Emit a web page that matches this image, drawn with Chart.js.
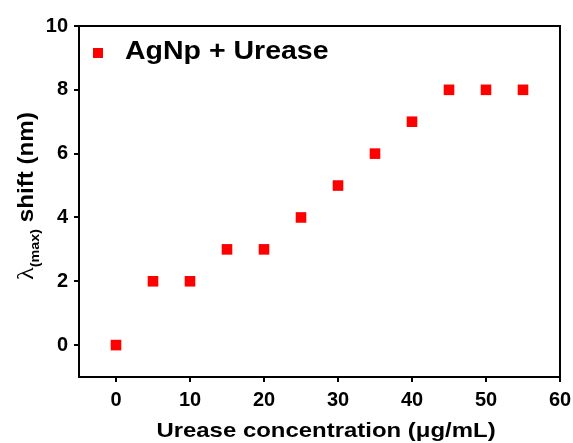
<!DOCTYPE html>
<html>
<head>
<meta charset="utf-8">
<script src="https://cdn.jsdelivr.net/npm/chart.js@4.4.0/dist/chart.umd.min.js"></script>
<style>
  html, body { margin: 0; padding: 0; background: #fff; }
  #wrap { width: 573px; height: 443px; }
</style>
</head>
<body>
<div id="wrap"><canvas id="shiftChart"></canvas></div>
<script>
// data
const concentration = [0, 5, 10, 15, 20, 25, 30, 35, 40, 45, 50, 55];
const lambdaShift = [0, 2, 2, 3, 3, 4, 5, 6, 7, 8, 8, 8];
const xTicks = [0, 10, 20, 30, 40, 50, 60];
const yTicks = [0, 2, 4, 6, 8, 10];
const seriesLabel = "AgNp + Urease";
const xTitle = "Urease concentration (\u03bcg/mL)";

const FONT = "'Liberation Sans', Arial, sans-serif";

// frame round the plot + titles + legend inside the plot
const decorations = {
    id: "decorations",
    afterDraw(chart) {
        const ctx = chart.ctx;
        const a = chart.chartArea;
        ctx.save();
        ctx.strokeStyle = "#000";
        ctx.lineWidth = 2;
        ctx.strokeRect(a.left, a.top, a.right - a.left, a.bottom - a.top);

        // legend
        ctx.fillStyle = "#ff0000";
        ctx.fillRect(a.left + 14, a.top + 22, 10, 10);
        ctx.fillStyle = "#000";
        ctx.font = "bold 25px " + FONT;
        ctx.textBaseline = "alphabetic";
        ctx.save();
        ctx.translate(a.left + 46, a.top + 33);
        ctx.scale(1.14, 1);
        ctx.fillText(seriesLabel, 0, 0);
        ctx.restore();

        // x title
        ctx.font = "bold 21px " + FONT;
        ctx.textAlign = "center";
        ctx.save();
        ctx.translate(326, 437);
        ctx.scale(1.14, 1);
        ctx.fillText(xTitle, 0, 0);
        ctx.restore();

        // y title: λ(max) shift (nm)
        ctx.textAlign = "left";
        const parts = [
            { t: "\u03bb", f: "24px 'Liberation Serif', serif", dy: 0 },
            { t: "(max)", f: "bold 13px " + FONT, dy: 6 },
            { t: " shift (nm)", f: "bold 22px " + FONT, dy: 0 }
        ];
        let total = 0;
        parts.forEach(p => { ctx.font = p.f; p.w = ctx.measureText(p.t).width; total += p.w; });
        ctx.translate(33, 196);
        ctx.rotate(-Math.PI / 2);
        ctx.scale(1.1, 1);
        let x = -total / 2;
        parts.forEach(p => {
            ctx.font = p.f;
            ctx.fillText(p.t, x, p.dy);
            x += p.w;
        });
        ctx.restore();
    }
};

new Chart(document.getElementById("shiftChart"), {
    type: "scatter",
    data: {
        datasets: [{
            label: seriesLabel,
            data: concentration.map((c, i) => ({ x: c, y: lambdaShift[i] })),
            pointStyle: "rect",
            pointRadius: 7.5,
            pointHoverRadius: 7.5,
            backgroundColor: "#ff0000",
            borderWidth: 0
        }]
    },
    options: {
        responsive: true,
        maintainAspectRatio: false,
        animation: false,
        layout: { padding: { top: 26, right: 13, left: 0, bottom: 0 } },
        plugins: {
            legend: { display: false },
            tooltip: { enabled: false }
        },
        scales: {
            x: {
                type: "linear",
                min: -5,
                max: 60,
                afterBuildTicks: s => { s.ticks = xTicks.map(v => ({ value: v })); },
                afterFit: s => { s.height = 66; s.paddingLeft = 0; s.paddingRight = 0; },
                grid: { drawOnChartArea: false, tickLength: 5, lineWidth: 2, color: "#000" },
                border: { color: "#000", width: 2 },
                ticks: { color: "#000", padding: 6, maxRotation: 0, font: { family: FONT, size: 20, weight: "bold" } }
            },
            y: {
                min: -1,
                max: 10,
                afterBuildTicks: s => { s.ticks = yTicks.map(v => ({ value: v })); },
                afterFit: s => { s.width = 79; s.paddingTop = 0; s.paddingBottom = 0; },
                grid: { drawOnChartArea: false, tickLength: 5, lineWidth: 2, color: "#000" },
                border: { color: "#000", width: 2 },
                ticks: { color: "#000", padding: 6, font: { family: FONT, size: 20, weight: "bold" } }
            }
        }
    },
    plugins: [decorations]
});
</script>
</body>
</html>
